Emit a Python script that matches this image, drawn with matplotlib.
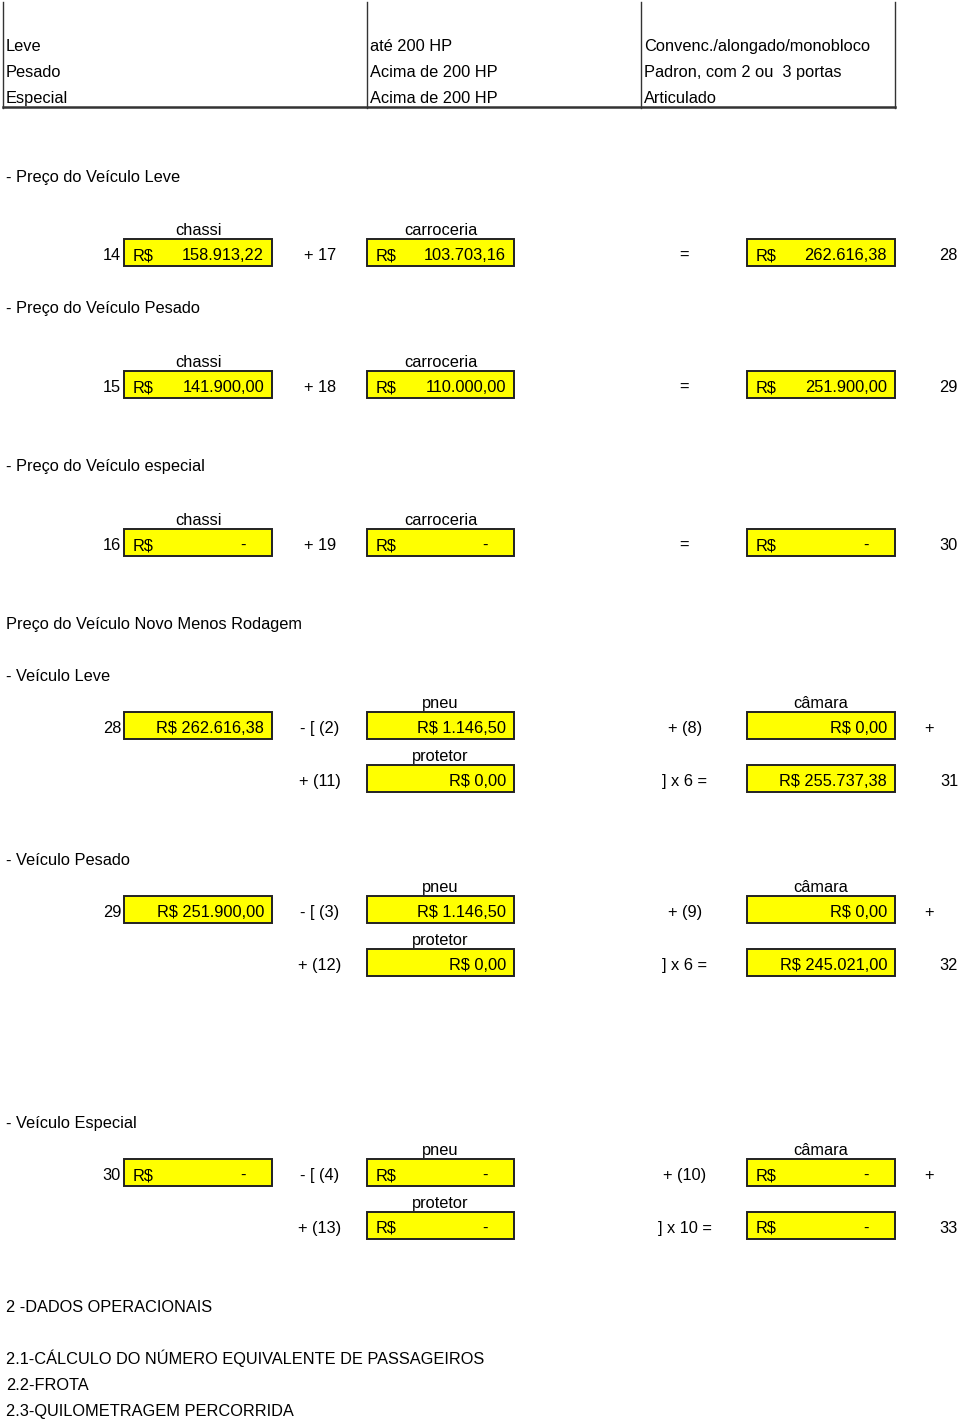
import matplotlib.pyplot as plt
from matplotlib.patches import Rectangle

plt.rcParams["font.family"] = ["Liberation Sans", "DejaVu Sans"]

# top table
vehicle_types = ["Leve", "Pesado", "Especial"]
engine_power = ["até 200 HP", "Acima de 200 HP", "Acima de 200 HP"]
body_types = ["Convenc./alongado/monobloco", "Padron, com 2 ou  3 portas", "Articulado"]

# preço do veículo = chassi + carroceria
price_titles = ["- Preço do Veículo Leve", "- Preço do Veículo Pesado", "- Preço do Veículo especial"]
chassi = [158913.22, 141900.00, None]
carroceria = [103703.16, 110000.00, None]
vehicle_price = [262616.38, 251900.00, None]
chassi_ref = ["14", "15", "16"]
carroceria_ref = ["+ 17", "+ 18", "+ 19"]
price_ref = ["28", "29", "30"]

# preço do veículo novo menos rodagem
rod_titles = ["- Veículo Leve", "- Veículo Pesado", "- Veículo Especial"]
rod_start = [262616.38, 251900.00, None]
pneu = [1146.50, 1146.50, None]
camara = [0.00, 0.00, None]
protetor = [0.00, 0.00, None]
rod_result = [255737.38, 245021.00, None]
multiplier = [6, 6, 10]
start_ref = ["28", "29", "30"]
pneu_ref = ["- [ (2)", "- [ (3)", "- [ (4)"]
camara_ref = ["+ (8)", "+ (9)", "+ (10)"]
protetor_ref = ["+ (11)", "+ (12)", "+ (13)"]
result_ref = ["31", "32", "33"]

footer = ["2 -DADOS OPERACIONAIS", "2.1-CÁLCULO DO NÚMERO EQUIVALENTE DE PASSAGEIROS",
          "2.2-FROTA", "2.3-QUILOMETRAGEM PERCORRIDA"]


def brl(v):
    s = f"{v:,.2f}"
    return s.replace(",", "X").replace(".", ",").replace("X", ".")


FS = 11.8
fig = plt.figure(figsize=(9.6, 14.21), dpi=100)
ax = fig.add_axes([0, 0, 1, 1])
ax.set_xlim(0, 960)
ax.set_ylim(1421, 0)
ax.axis("off")


def txt(x, y, s, ha="left"):
    # y is the visual centre of the capitals; draw on the baseline
    ax.text(x, y + 6, s, ha=ha, va="baseline", fontsize=FS, color="black")


def box(x0, x1, y, value, accounting):
    ax.add_patch(Rectangle((x0, y - 15), x1 - x0, 27, facecolor="#ffff00",
                           edgecolor="#222222", linewidth=1.4))
    if value is None:
        txt(x0 + 9, y, "R$")
        txt(x1 - 29, y, "-", ha="center")
    elif accounting:
        txt(x0 + 9, y, "R$")
        txt(x1 - 8, y, brl(value), ha="right")
    else:
        txt(x1 - 8, y, "R$ " + brl(value), ha="right")


cols = [(124, 272), (367, 514), (747, 895)]

# top table
for x in [3, 367, 641, 895]:
    ax.plot([x, x], [2, 108], color="#333333", linewidth=1)
ax.plot([3, 895], [107, 107], color="#333333", linewidth=1.8)
for i, y in enumerate([45, 71, 97]):
    txt(6, y, vehicle_types[i])
    txt(370, y, engine_power[i])
    txt(644, y, body_types[i])

# vehicle price sections
for i, (ty, ry) in enumerate([(176, 254), (307, 386), (465, 544)]):
    txt(6, ty, price_titles[i])
    txt(sum(cols[0]) / 2, ry - 25, "chassi", ha="center")
    txt(sum(cols[1]) / 2, ry - 25, "carroceria", ha="center")
    txt(121, ry, chassi_ref[i], ha="right")
    box(*cols[0], ry, chassi[i], True)
    txt(320, ry, carroceria_ref[i], ha="center")
    box(*cols[1], ry, carroceria[i], True)
    txt(684, ry, "=", ha="center")
    box(*cols[2], ry, vehicle_price[i], True)
    txt(958, ry, price_ref[i], ha="right")

txt(6, 623, "Preço do Veículo Novo Menos Rodagem")

for i, (ty, ry) in enumerate([(675, 727), (859, 911), (1122, 1174)]):
    ry2 = ry + 53
    txt(6, ty, rod_titles[i])
    txt(sum(cols[1]) / 2, ry - 25, "pneu", ha="center")
    txt(sum(cols[2]) / 2, ry - 25, "câmara", ha="center")
    txt(121, ry, start_ref[i], ha="right")
    box(*cols[0], ry, rod_start[i], False)
    txt(320, ry, pneu_ref[i], ha="center")
    box(*cols[1], ry, pneu[i], False)
    txt(685, ry, camara_ref[i], ha="center")
    box(*cols[2], ry, camara[i], False)
    txt(929, ry, "+", ha="center")
    txt(sum(cols[1]) / 2, ry2 - 25, "protetor", ha="center")
    txt(320, ry2, protetor_ref[i], ha="center")
    box(*cols[1], ry2, protetor[i], False)
    txt(685, ry2, f"] x {multiplier[i]} =", ha="center")
    box(*cols[2], ry2, rod_result[i], False)
    txt(958, ry2, result_ref[i], ha="right")

for s, y in zip(footer, [1306, 1358, 1384, 1410]):
    txt(6, y, s)

fig.savefig("out.png", dpi=100)
